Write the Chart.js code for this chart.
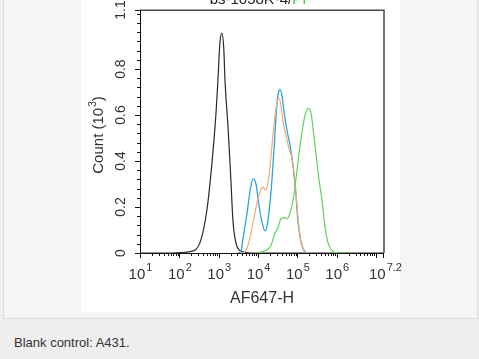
<!DOCTYPE html>
<html>
<head>
<meta charset="utf-8">
<script src="https://cdn.jsdelivr.net/npm/chart.js@4.4.1/dist/chart.umd.min.js"></script>
<style>
  html, body { margin: 0; padding: 0; width: 479px; height: 359px; overflow: hidden; background: #eeeeee; }
  #frame { position: absolute; left: 3px; top: -2px; width: 473px; height: 319px; background: #f4f6f6; border: 1px solid #dcdcdc; }
  #panel { position: absolute; left: 81px; top: 0; width: 319px; height: 312px; background: #ffffff; }
  #caption { position: absolute; left: 14px; top: 335px; font: 13px "Liberation Sans", Arial, sans-serif; color: #333333; }
  canvas { position: absolute; left: 0; top: 0; }
</style>
</head>
<body>
<div id="frame"></div>
<div id="panel"></div>
<div id="caption">Blank control: A431.</div>
<canvas id="c" width="479" height="359"></canvas>
<script>
// x values are decades (log10 of AF647-H), y values are counts in 10^3
const blackX = [1.0, 1.76, 2.02, 2.27, 2.52, 2.70, 2.83, 2.93, 2.98, 3.03, 3.08, 3.13, 3.16, 3.24, 3.31, 3.36, 3.47, 3.62, 3.80, 7.2];
const blackY = [0, 0, 0.002, 0.006, 0.043, 0.187, 0.394, 0.605, 0.75, 0.913, 0.956, 0.884, 0.75, 0.538, 0.317, 0.144, 0.026, 0.005, 0, 0];

const orangeX = [3.62, 3.69, 3.77, 3.84, 3.92, 3.99, 4.07, 4.13, 4.18, 4.23, 4.30, 4.35, 4.41, 4.46, 4.51, 4.56, 4.63, 4.71, 4.79, 4.86, 4.94, 5.02, 5.09, 5.17, 5.27];
const orangeY = [0, 0.01, 0.048, 0.106, 0.173, 0.231, 0.274, 0.288, 0.274, 0.288, 0.365, 0.461, 0.567, 0.634, 0.673, 0.663, 0.577, 0.509, 0.452, 0.413, 0.308, 0.144, 0.048, 0.01, 0];

const blueX = [3.49, 3.57, 3.62, 3.72, 3.80, 3.87, 3.95, 4.02, 4.10, 4.18, 4.25, 4.33, 4.41, 4.46, 4.51, 4.56, 4.61, 4.66, 4.74, 4.81, 4.89, 4.96, 5.01, 5.09, 5.17, 5.27];
const blueY = [0, 0.01, 0.067, 0.173, 0.274, 0.322, 0.298, 0.211, 0.135, 0.096, 0.139, 0.269, 0.461, 0.605, 0.692, 0.711, 0.682, 0.615, 0.529, 0.471, 0.375, 0.259, 0.144, 0.048, 0.01, 0];

const greenX = [3.92, 4.10, 4.23, 4.33, 4.43, 4.51, 4.58, 4.66, 4.74, 4.81, 4.89, 4.96, 5.04, 5.12, 5.19, 5.27, 5.35, 5.40, 5.47, 5.55, 5.63, 5.70, 5.78, 5.88, 6.01, 6.21];
const greenY = [0, 0.005, 0.014, 0.034, 0.086, 0.111, 0.149, 0.154, 0.149, 0.173, 0.231, 0.317, 0.432, 0.529, 0.596, 0.629, 0.605, 0.538, 0.432, 0.317, 0.221, 0.115, 0.043, 0.01, 0, 0];

const xMajor = [1, 2, 3, 4, 5, 6, 7];
const xMajorLabels = ['1', '2', '3', '4', '5', '6', ''];
const xEnd = 7.2;
const xEndLabel = '7.2';
const yMajor = [0, 0.2, 0.4, 0.6, 0.8];
const yLabels = ['0', '0.2', '0.4', '0.6', '0.8'];
const yTop = 1.057;
const yTopLabel = '1.1';
const yMinorStep = 0.04;

const xTitle = 'AF647-H';
const yTitleMain = 'Count (10';
const yTitleSup = '3';
const topTitleBlack = 'bs-1058R-4/';
const topTitleGreen = 'PI';

function pts(xs, ys) { return xs.map((x, i) => ({ x: x, y: ys[i] })); }

const FONT = '"Liberation Sans", Arial, sans-serif';

const axesPlugin = {
  id: 'axesPlugin',
  afterDraw(chart) {
    const ctx = chart.ctx;
    const xs = chart.scales.x, ys = chart.scales.y;
    const a = chart.chartArea;
    ctx.save();
    // frame top/right
    ctx.strokeStyle = '#4a4a4a';
    ctx.lineWidth = 1.5;
    ctx.beginPath();
    ctx.moveTo(a.left, a.top + 0.25);
    ctx.lineTo(a.right, a.top + 0.25);
    ctx.lineTo(a.right, a.bottom);
    ctx.stroke();
    // axes
    ctx.strokeStyle = '#111';
    ctx.lineWidth = 1;
    ctx.beginPath();
    ctx.moveTo(a.left + 0.5, a.top);
    ctx.lineTo(a.left + 0.5, a.bottom + 0.5);
    ctx.lineTo(a.right, a.bottom + 0.5);
    ctx.stroke();
    // x ticks
    ctx.beginPath();
    for (let d = 1; d <= 7; d++) {
      for (let k = 1; k <= 9; k++) {
        const v = d + Math.log10(k);
        if (v > xEnd + 1e-9) break;
        const px = Math.round(xs.getPixelForValue(v)) + 0.5;
        const len = k === 1 ? 5 : 3;
        ctx.moveTo(px, a.bottom);
        ctx.lineTo(px, a.bottom + len);
      }
    }
    const pe = Math.round(xs.getPixelForValue(xEnd)) - 0.5;
    ctx.moveTo(pe, a.bottom); ctx.lineTo(pe, a.bottom + 5);
    // y ticks
    for (let v = 0; v <= yTop + 1e-9; v += yMinorStep) {
      const py = Math.round(ys.getPixelForValue(v)) + 0.5;
      ctx.moveTo(a.left, py); ctx.lineTo(a.left - 3, py);
    }
    yMajor.concat([yTop]).forEach(v => {
      const py = Math.round(ys.getPixelForValue(v)) + 0.5;
      ctx.moveTo(a.left, py); ctx.lineTo(a.left - 5, py);
    });
    ctx.stroke();

    // x tick labels
    ctx.fillStyle = '#333';
    ctx.textBaseline = 'alphabetic';
    const drawPow = (cx, base, sup) => {
      ctx.font = '15px ' + FONT;
      const w1 = ctx.measureText(base).width;
      ctx.font = '11px ' + FONT;
      const w2 = ctx.measureText(sup).width;
      const left = cx - (w1 + w2) / 2;
      ctx.font = '15px ' + FONT;
      ctx.textAlign = 'left';
      ctx.fillText(base, left, 279);
      ctx.font = '11px ' + FONT;
      ctx.fillText(sup, left + w1 + 1, 271);
    };
    xMajor.forEach((v, i) => { if (xMajorLabels[i]) drawPow(xs.getPixelForValue(v), '10', xMajorLabels[i]); });
    drawPow(xs.getPixelForValue(xEnd) + 1, '10', xEndLabel);

    // y tick labels rotated
    ctx.font = '14px ' + FONT;
    ctx.textAlign = 'center';
    ctx.textBaseline = 'middle';
    const yl = (txt, py) => {
      ctx.save();
      ctx.translate(121, py);
      ctx.rotate(-Math.PI / 2);
      ctx.fillText(txt, 0, 0);
      ctx.restore();
    };
    yMajor.forEach((v, i) => yl(yLabels[i], ys.getPixelForValue(v)));
    yl(yTopLabel, ys.getPixelForValue(yTop));

    // y title
    ctx.save();
    ctx.translate(103, 135);
    ctx.rotate(-Math.PI / 2);
    ctx.textBaseline = 'alphabetic';
    ctx.font = '15px ' + FONT;
    const m1 = ctx.measureText(yTitleMain).width;
    const m3 = ctx.measureText(')').width;
    ctx.font = '10px ' + FONT;
    const m2 = ctx.measureText(yTitleSup).width;
    let sx = -(m1 + m2 + m3 + 1) / 2;
    ctx.textAlign = 'left';
    ctx.font = '15px ' + FONT;
    ctx.fillText(yTitleMain, sx, 0);
    ctx.font = '10px ' + FONT;
    ctx.fillText(yTitleSup, sx + m1 + 1, -7);
    ctx.font = '15px ' + FONT;
    ctx.fillText(')', sx + m1 + m2 + 1, 0);
    ctx.restore();

    // x title
    ctx.font = '16px ' + FONT;
    ctx.textAlign = 'center';
    ctx.textBaseline = 'alphabetic';
    ctx.fillText(xTitle, 262, 303);

    // top title (cut off by image edge)
    ctx.font = '15px ' + FONT;
    ctx.textAlign = 'left';
    const tb = ctx.measureText(topTitleBlack).width;
    const tg = ctx.measureText(topTitleGreen).width;
    const tx = 258 - (tb + tg) / 2;
    ctx.fillStyle = '#222';
    ctx.fillText(topTitleBlack, tx, 4);
    ctx.fillStyle = '#44cc44';
    ctx.fillText(topTitleGreen, tx + tb, 4);
    ctx.restore();
  }
};

const ds = (label, xs, ys, color, w) => ({
  label: label,
  data: pts(xs, ys),
  borderColor: color,
  borderWidth: w,
  pointRadius: 0,
  fill: false,
  cubicInterpolationMode: 'monotone',
  clip: false
});

new Chart(document.getElementById('c'), {
  type: 'line',
  data: {
    datasets: [
      ds('Green', greenX, greenY, '#5fd65a', 1.2),
      ds('Orange', orangeX, orangeY, '#f2a878', 1.2),
      ds('Blue', blueX, blueY, '#2aa5d8', 1.3),
      ds('Black', blackX, blackY, '#2a2a2a', 1.2)
    ]
  },
  options: {
    responsive: false,
    devicePixelRatio: 1,
    animation: false,
    layout: { padding: { left: 140, top: 10, right: 95, bottom: 106 } },
    scales: {
      x: { type: 'linear', min: 1, max: xEnd, display: false },
      y: { type: 'linear', min: 0, max: yTop, display: false }
    },
    plugins: { legend: { display: false }, tooltip: { enabled: false } }
  },
  plugins: [axesPlugin]
});
</script>
</body>
</html>
